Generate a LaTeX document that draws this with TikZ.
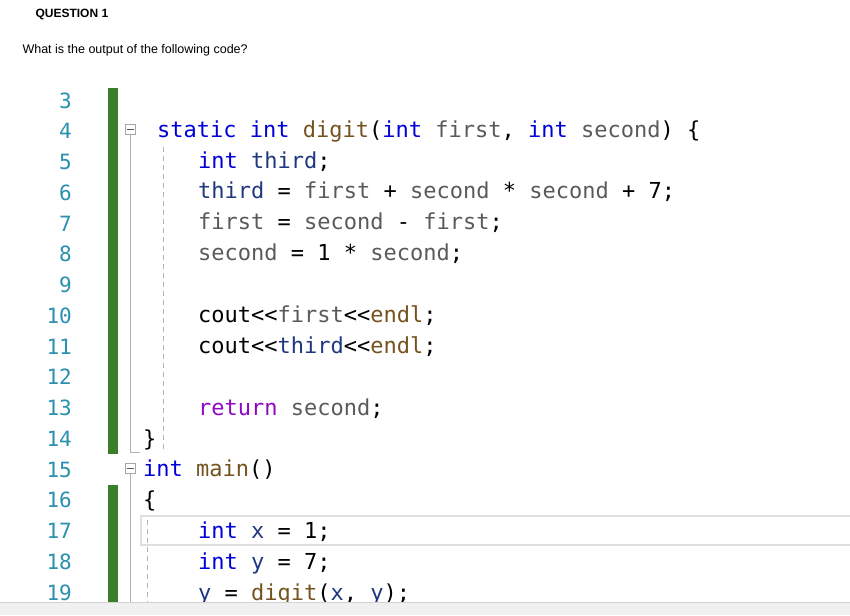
\documentclass[tikz,border=0pt]{standalone}
\usepackage{fontspec}
\setmainfont{Liberation Sans}
\setmonofont{DejaVu Sans Mono}
\definecolor{lnum}{HTML}{2B91AF}
\definecolor{kwblue}{HTML}{0000FF}
\definecolor{fnbrown}{HTML}{74531F}
\definecolor{locnavy}{HTML}{1F377F}
\definecolor{pargray}{HTML}{5A5A5A}
\definecolor{retpurple}{HTML}{8F08C4}
\definecolor{barGreen}{HTML}{3A7E28}
\newcommand{\kw}[1]{\textcolor{kwblue!85!black}{#1}}
\newcommand{\fn}[1]{\textcolor{fnbrown}{#1}}
\newcommand{\lv}[1]{\textcolor{locnavy}{#1}}
\newcommand{\pv}[1]{\textcolor{pargray}{#1}}
\newcommand{\rt}[1]{\textcolor{retpurple}{#1}}
\tikzset{>=stealth,
  code/.style={anchor=base west, inner sep=0pt, font=\ttfamily\fontsize{22}{24}\selectfont},
  num/.style={anchor=base east, inner sep=0pt, text=lnum, font=\ttfamily\fontsize{21}{24}\selectfont},
  fold/.style={draw=gray!70, fill=white, line width=0.8pt, minimum size=10pt, inner sep=0pt}}

\begin{document}
\begin{tikzpicture}[x=1pt, y=-1pt]
    \useasboundingbox[fill=white] (0,0) rectangle (850,615);
    \node[anchor=west, font=\bfseries\fontsize{12}{14}\selectfont] (title) at (32,14) {QUESTION 1};
    \node[anchor=west, font=\fontsize{12.5}{14}\selectfont] (ask) at (19,50) {What is the output of the following code?};
    % line numbers
    \foreach \n in {3,...,19}
        \node[num] (n\n) at (72,{100+(\n-3)*30.75+8}) {\n};
    % change bars
    \fill[barGreen] (108,88) rectangle (118,454);
    \fill[barGreen] (108,485) rectangle (118,602);
    % current line box
    \draw[gray!25, line width=1.5pt] (850,516) -- (141,516) -- (141,545) -- (850,545);
    % fold markers
    \draw[gray!60, line width=0.8pt] (130,135) -- (130,452) -- (140,452);
    \draw[gray!60, line width=0.8pt] (130,474) -- (130,602);
    \node[fold] (fa) at (130,129) {};
    \node[fold] (fb) at (130,468) {};
    \draw[gray!70!black, line width=1pt] (126.5,129) -- (133.5,129);
    \draw[gray!70!black, line width=1pt] (126.5,468) -- (133.5,468);
    % indent guides
    \draw[gray!60, dash pattern=on 5pt off 4pt] (163,147) -- (163,452);
    \draw[gray!60, dash pattern=on 5pt off 4pt] (147,520) -- (147,602);
    % code
    \node[code] (l4) at (157,137) {\kw{static int} \fn{digit}(\kw{int} \pv{first}, \kw{int} \pv{second}) \{};
    \node[code] (l5) at (198,168) {\kw{int} \lv{third};};
    \node[code] (l6) at (198,198) {\lv{third} = \pv{first} + \pv{second} * \pv{second} + 7;};
    \node[code] (l7) at (198,229) {\pv{first} = \pv{second} - \pv{first};};
    \node[code] (l8) at (198,260) {\pv{second} = 1 * \pv{second};};
    \node[code] (l10) at (198,322) {cout<{}<\pv{first}<{}<\fn{endl};};
    \node[code] (l11) at (198,353) {cout<{}<\lv{third}<{}<\fn{endl};};
    \node[code] (l13) at (198,415) {\rt{return} \pv{second};};
    \node[code] (l14) at (143,446) {\}};
    \node[code] (l15) at (143,476) {\kw{int} \fn{main}()};
    \node[code] (l16) at (143,507) {\{};
    \node[code] (l17) at (198,538) {\kw{int} \lv{x} = 1;};
    \node[code] (l18) at (198,569) {\kw{int} \lv{y} = 7;};
    \node[code] (l19) at (198,600) {\lv{y} = \fn{digit}(\lv{x}, \lv{y});};
    % bottom strip
    \fill[gray!12] (0,602) rectangle (850,615);
    \draw[gray!35] (0,602) -- (850,602);
\end{tikzpicture}
\end{document}
